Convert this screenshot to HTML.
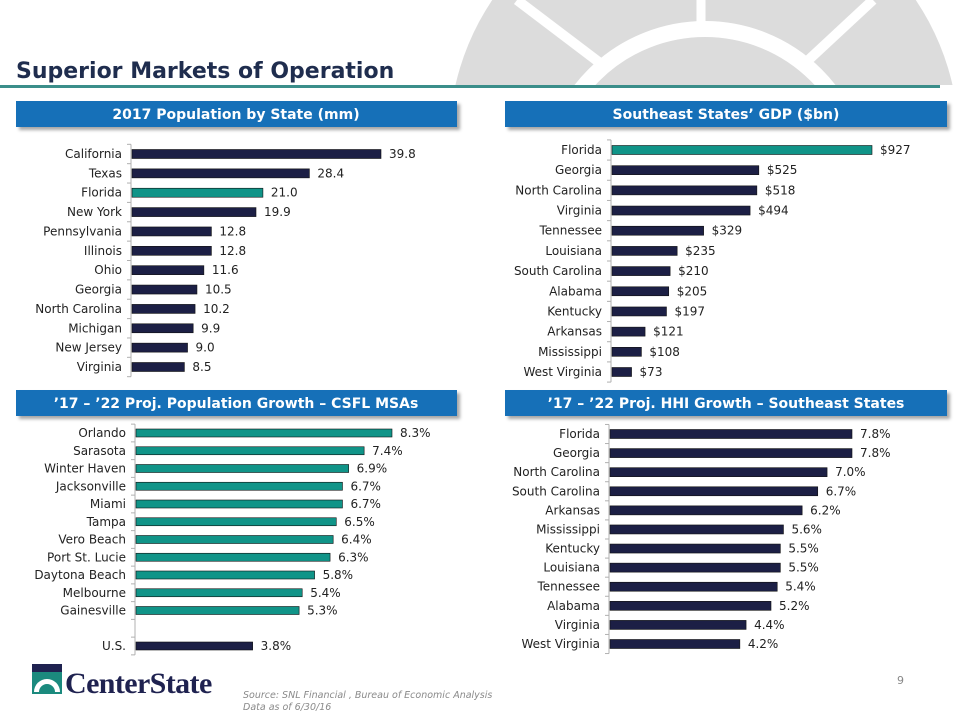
<!DOCTYPE html>
<html><head><meta charset="utf-8">
<style>
html,body{margin:0;padding:0;background:#fff;}
#page{position:relative;width:960px;height:720px;overflow:hidden;font-family:"DejaVu Sans","Liberation Sans",sans-serif;}
svg text{font-family:"DejaVu Sans","Liberation Sans",sans-serif;}
</style></head>
<body>
<div id="page">
<svg id="svg" width="960" height="720" viewBox="0 0 960 720" xmlns="http://www.w3.org/2000/svg">
  <defs>
    <clipPath id="topclip"><rect x="0" y="0" width="960" height="85"/></clipPath>
    <filter id="sh" x="-5%" y="-20%" width="110%" height="160%"><feDropShadow dx="3" dy="3" stdDeviation="1.5" flood-color="#000" flood-opacity="0.35"/></filter>
  </defs>
  <g clip-path="url(#topclip)">
    <circle cx="704" cy="142" r="255" fill="#dcdcdc"/>
    <circle cx="705" cy="186" r="157" fill="none" stroke="#fff" stroke-width="16"/>
    <line x1="701" y1="0" x2="701" y2="30" stroke="#fff" stroke-width="9"/>
    <line x1="517" y1="0" x2="604" y2="66" stroke="#fff" stroke-width="10"/>
    <line x1="873" y1="0" x2="802" y2="66" stroke="#fff" stroke-width="10"/>
  </g>
  <text x="16" y="78" font-weight="bold" font-size="22" fill="#1f2d4e">Superior Markets of Operation</text>
  <rect x="0" y="85" width="940" height="3" fill="#3b8e8a"/>

  <g>
    <rect x="16" y="101" width="441" height="26" fill="#1570b8" filter="url(#sh)"/>
    <text x="236" y="119" text-anchor="middle" font-size="14" font-weight="bold" fill="#fff">2017 Population by State (mm)</text>
  </g>
  <g>
    <rect x="505" y="101" width="442" height="26" fill="#1570b8" filter="url(#sh)"/>
    <text x="726" y="119" text-anchor="middle" font-size="14" font-weight="bold" fill="#fff">Southeast States’ GDP ($bn)</text>
  </g>
  <g>
    <rect x="16" y="390" width="441" height="26" fill="#1570b8" filter="url(#sh)"/>
    <text x="236" y="408" text-anchor="middle" font-size="14" font-weight="bold" fill="#fff">’17 – ’22 Proj. Population Growth – CSFL MSAs</text>
  </g>
  <g>
    <rect x="505" y="390" width="442" height="26" fill="#1570b8" filter="url(#sh)"/>
    <text x="726" y="408" text-anchor="middle" font-size="14" font-weight="bold" fill="#fff">’17 – ’22 Proj. HHI Growth – Southeast States</text>
  </g>

  <g id="charts"></g>

  <g>
    <rect x="32" y="664" width="30" height="30" fill="#1b8a7e"/>
    <path d="M34 692 A13 13 0 0 1 60 692 Z" fill="#fff"/>
    <path d="M39 692 A8 8 0 0 1 55 692 Z" fill="#1b8a7e"/>
    <rect x="32" y="664" width="30" height="8" fill="#1f2250"/>
    <text x="65" y="693" style="font-family:'Liberation Serif',serif" font-weight="bold" font-size="30" fill="#1f2250" letter-spacing="-0.6">CenterState</text>
  </g>
  <text x="243" y="698" font-size="9.5" font-style="italic" fill="#8a8a8a">Source: SNL Financial , Bureau of Economic Analysis</text>
  <text x="243" y="710" font-size="9.5" font-style="italic" fill="#8a8a8a">Data as of 6/30/16</text>
  <text x="897" y="684" font-size="11" fill="#888">9</text>
</svg>
</div>
<script>
// Chart 1: 2017 population (mm)
const popCats = ["California","Texas","Florida","New York","Pennsylvania","Illinois","Ohio","Georgia","North Carolina","Michigan","New Jersey","Virginia"];
const popVals = [39.8,28.4,21.0,19.9,12.8,12.8,11.6,10.5,10.2,9.9,9.0,8.5];
const popLabels = ["39.8","28.4","21.0","19.9","12.8","12.8","11.6","10.5","10.2","9.9","9.0","8.5"];
const popHighlight = ["Florida"];
// Chart 2: GDP ($bn)
const gdpCats = ["Florida","Georgia","North Carolina","Virginia","Tennessee","Louisiana","South Carolina","Alabama","Kentucky","Arkansas","Mississippi","West Virginia"];
const gdpVals = [927,525,518,494,329,235,210,205,197,121,108,73];
const gdpLabels = ["$927","$525","$518","$494","$329","$235","$210","$205","$197","$121","$108","$73"];
const gdpHighlight = ["Florida"];
// Chart 3: MSA growth (%)
const msaCats = ["Orlando","Sarasota","Winter Haven","Jacksonville","Miami","Tampa","Vero Beach","Port St. Lucie","Daytona Beach","Melbourne","Gainesville","","U.S."];
const msaVals = [8.3,7.4,6.9,6.7,6.7,6.5,6.4,6.3,5.8,5.4,5.3,null,3.8];
const msaLabels = ["8.3%","7.4%","6.9%","6.7%","6.7%","6.5%","6.4%","6.3%","5.8%","5.4%","5.3%","","3.8%"];
const msaNavy = ["U.S."];
// Chart 4: HHI growth (%)
const hhiCats = ["Florida","Georgia","North Carolina","South Carolina","Arkansas","Mississippi","Kentucky","Louisiana","Tennessee","Alabama","Virginia","West Virginia"];
const hhiVals = [7.8,7.8,7.0,6.7,6.2,5.6,5.5,5.5,5.4,5.2,4.4,4.2];
const hhiLabels = ["7.8%","7.8%","7.0%","6.7%","6.2%","5.6%","5.5%","5.5%","5.4%","5.2%","4.4%","4.2%"];

const NAVY = "#1c1f45", TEAL = "#109488";
const NS = "http://www.w3.org/2000/svg";
const root = document.getElementById("charts");

function drawChart(name, cats, vals, labels, colorFn, x0, pxPerUnit, yTop, pitch, barH) {
  const g = document.createElementNS(NS, "g");
  
  
  root.appendChild(g);
  const xScale = v => x0 + v * pxPerUnit;
  const yScale = i => yTop + i * pitch;
  const axis = document.createElementNS(NS, "line");
  axis.setAttribute("x1", x0); axis.setAttribute("x2", x0);
  axis.setAttribute("y1", yScale(0) - pitch / 2); axis.setAttribute("y2", yScale(cats.length - 1) + pitch / 2);
  axis.setAttribute("stroke", "#b0b0b0"); axis.setAttribute("stroke-width", "1");
  
  
  g.appendChild(axis);
  for (let i = 0; i <= cats.length; i++) {
    const t = document.createElementNS(NS, "line");
    const ty = yScale(i) - pitch / 2;
    t.setAttribute("x1", x0 - 4); t.setAttribute("x2", x0); t.setAttribute("y1", ty); t.setAttribute("y2", ty);
    t.setAttribute("stroke", "#b0b0b0");
    
    
    g.appendChild(t);
  }
  cats.forEach((c, i) => {
    const cy = yScale(i);
    const lab = document.createElementNS(NS, "text");
    lab.setAttribute("x", x0 - 9); lab.setAttribute("y", cy + 4);
    lab.setAttribute("text-anchor", "end"); lab.setAttribute("font-size", "12"); lab.setAttribute("fill", "#222");
    lab.textContent = c;
    
    
    g.appendChild(lab);
    if (vals[i] == null) return;
    const r = document.createElementNS(NS, "rect");
    r.setAttribute("x", x0 + 1); r.setAttribute("y", cy - barH / 2);
    r.setAttribute("width", xScale(vals[i]) - x0 - 1); r.setAttribute("height", barH);
    r.setAttribute("fill", colorFn(c)); r.setAttribute("stroke", "#111"); r.setAttribute("stroke-width", "0.6");
    
    
    g.appendChild(r);
    const v = document.createElementNS(NS, "text");
    v.setAttribute("x", xScale(vals[i]) + 8); v.setAttribute("y", cy + 4);
    v.setAttribute("font-size", "12"); v.setAttribute("fill", "#222");
    v.textContent = labels[i];
    
    
    g.appendChild(v);
  });
}

drawChart("population-chart", popCats, popVals, popLabels, c => popHighlight.includes(c) ? TEAL : NAVY, 131, 250 / 39.8, 154, (367 - 154) / 11, 9);
drawChart("gdp-chart", gdpCats, gdpVals, gdpLabels, c => gdpHighlight.includes(c) ? TEAL : NAVY, 611, 261 / 927, 150, (372 - 150) / 11, 9);
drawChart("msa-growth-chart", msaCats, msaVals, msaLabels, c => msaNavy.includes(c) ? NAVY : TEAL, 135, 257 / 8.3, 433, (646 - 433) / 12, 8);
drawChart("hhi-growth-chart", hhiCats, hhiVals, hhiLabels, c => NAVY, 609, 243 / 7.8, 434, (644 - 434) / 11, 9);
</script>
</body></html>
